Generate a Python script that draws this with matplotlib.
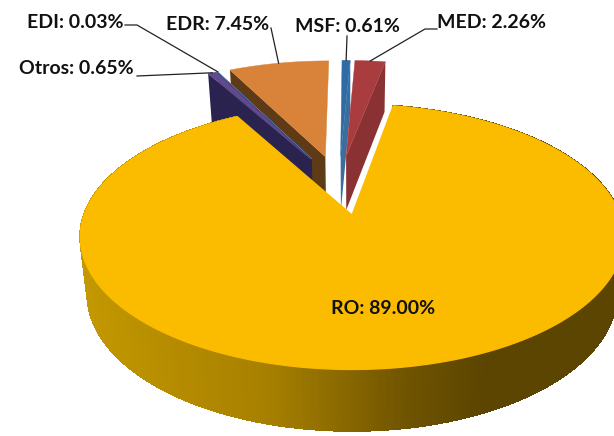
import numpy as np
import matplotlib
matplotlib.use("Agg")
import matplotlib.pyplot as plt
from matplotlib.collections import PolyCollection
from matplotlib.colors import LinearSegmentedColormap
from matplotlib.patches import Polygon

plt.rcParams["font.family"] = ["Lato", "DejaVu Sans"]

labels = ["RO", "Otros", "EDI", "EDR", "MSF", "MED"]
values = [89.00, 0.65, 0.03, 7.45, 0.61, 2.26]

top_colors = ["#FBBC00", "#5F4A8B", "#4A7EBB", "#D9833A", "#2F6CA6", "#A83C3E"]
wall_colors = [None, "#2A2350", "#2A2350", "#5E3A17", "#3A6E9E", "#8A3133"]

# label x, y, leader elbow
label_pos = {
    "EDI": (27, 22, [(125, 25), (137, 25)]),
    "EDR": (166, 24, [(271, 28)]),
    "MSF": (295, 26, [(347, 36)]),
    "MED": (437, 23, [(437, 29), (425, 29)]),
    "Otros": (19, 69, [(137, 76)]),
}

# view of the tilted disc, all in pixels
cx, cy = 352, 215
A, B = 268, 129
k = 0.165
drop = 56
shrink = 0.026
explode = 0.245
start = 10.3  # angle of the first slice edge, clockwise from the back
fontsize = 14

wall_cmap = LinearSegmentedColormap.from_list(
    "wall", [(0, "#C39800"), (0.36, "#A67F00"), (0.62, "#6E5300"), (0.76, "#5C4500"), (1, "#5C4500")])


def project(x, y, z=0):
    w = 1 + k * y
    return cx + A * x / w * (1 - shrink * z), cy - B * y / w + drop * z / np.sqrt(w)


def rim(a0, a1, dx, dy, z=0):
    t = np.radians(np.linspace(a0, a1, max(int(abs(a1 - a0) * 2), 2)))
    return np.column_stack(project(dx + np.sin(t), dy + np.cos(t), z))


fig = plt.figure(figsize=(6.14, 4.36), dpi=100)
ax = fig.add_axes([0, 0, 1, 1])
ax.set_xlim(0, 614)
ax.set_ylim(436, 0)
ax.axis("off")

sweep = np.array(values) / sum(values) * 360
a0 = start + np.concatenate([[0], np.cumsum(sweep[:-1])])
mid = np.radians(a0 + sweep / 2)
off_x = explode * (np.sin(mid) - np.sin(mid[0]))
off_y = explode * (np.cos(mid) - np.cos(mid[0]))
# small slices sit a touch further up and left
off_x[1:] -= 0.01
off_y[1:] += 0.008

# back to front, the big slice last
for i in [3, 2, 1, 4, 5, 0]:
    dx, dy = off_x[i], off_y[i]
    top = rim(a0[i], a0[i] + sweep[i], dx, dy)
    tip = np.array(project(dx, dy))
    tip_low = np.array(project(dx, dy, 1))
    low = rim(a0[i], a0[i] + sweep[i], dx, dy, 1)
    if i == 0:
        strips = []
        shades = []
        for j in range(len(top) - 1):
            strips.append([top[j], top[j + 1], low[j + 1], low[j]])
            shades.append((top[j][0] - 79) / 535)
        shade_cols = wall_cmap(np.clip(shades, 0, 1))
        ax.add_collection(PolyCollection(strips, facecolors=shade_cols, edgecolors=shade_cols,
                                         linewidths=0.8, antialiaseds=False))
    elif labels[i] in ("MSF", "MED"):
        ax.add_patch(Polygon([tip, top[-1], low[-1], tip_low], fc=wall_colors[i], ec="none"))
    else:
        ax.add_patch(Polygon([tip, top[0], low[0], tip_low], fc=wall_colors[i], ec="none"))
    ax.add_patch(Polygon(np.vstack([tip, top]), fc=top_colors[i], ec=top_colors[i], lw=0.9 if i == 0 else 0.3))

    if labels[i] in label_pos:
        lx, ly, elbow = label_pos[labels[i]]
        ax.text(lx, ly, f"{labels[i]}: {values[i]:.2f}%", fontsize=fontsize, fontweight="bold",
                color="#111111", ha="left", va="center")
        end = rim(mid[i] * 180 / np.pi, mid[i] * 180 / np.pi + 0.1, dx, dy)[0]
        pts = np.array(elbow + [tuple(end)])
        ax.plot(pts[:, 0], pts[:, 1], color="#222222", lw=0.9)

ax.text(331, 308, f"{labels[0]}: {values[0]:.2f}%", fontsize=fontsize, fontweight="bold",
        color="#111111", ha="left", va="center")

fig.savefig("out.png", dpi=100)
